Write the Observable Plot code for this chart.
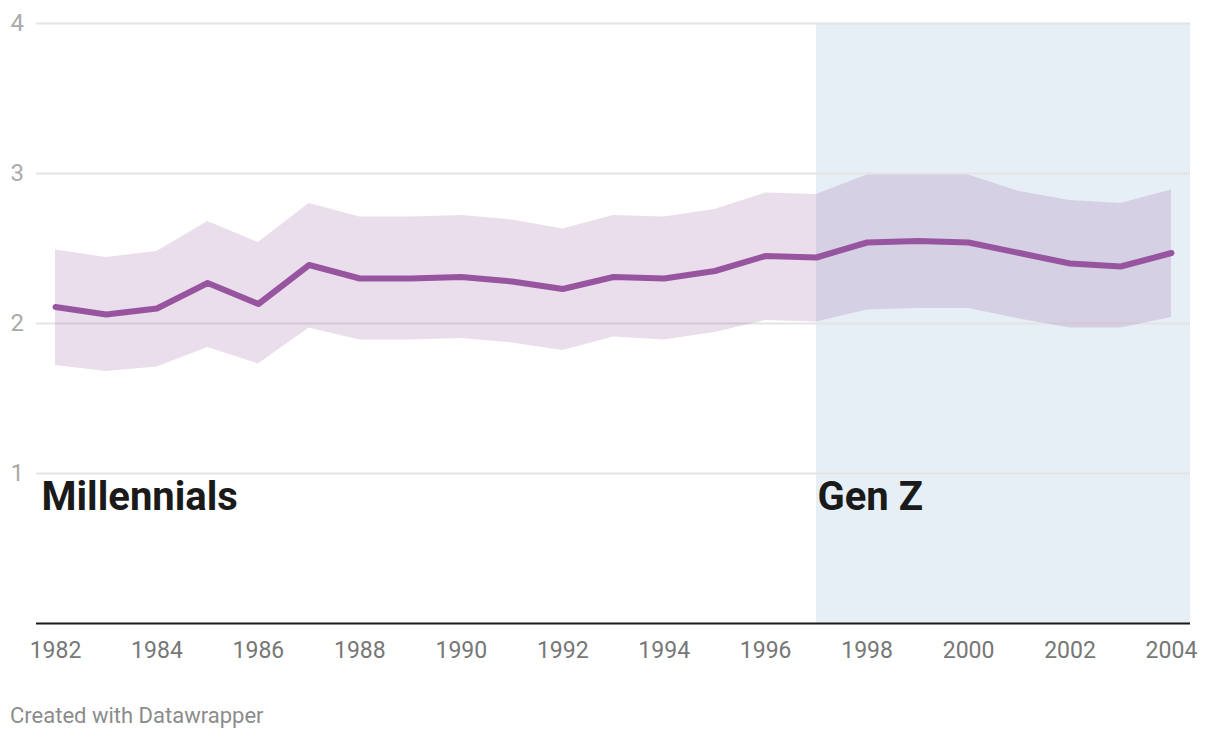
<!DOCTYPE html>
<html><head><meta charset="utf-8">
<script src="https://cdn.jsdelivr.net/npm/d3@7"></script>
<script src="https://cdn.jsdelivr.net/npm/@observablehq/plot@0.6"></script>
<style>
body{margin:0;background:#fff;font-family:Roboto,sans-serif;}
#chart{position:relative;width:1220px;height:740px;overflow:hidden;}
#chart svg{position:absolute;left:0;top:0;}
#caption{position:absolute;left:10px;top:703px;font-size:22px;color:#8c8c8c;font-family:Roboto,sans-serif;}
</style></head><body><div id="chart"><div id="caption">Created with Datawrapper</div></div><script>
const years = [1982,1983,1984,1985,1986,1987,1988,1989,1990,1991,1992,1993,1994,1995,1996,1997,1998,1999,2000,2001,2002,2003,2004];
const mean  = [2.11,2.06,2.10,2.27,2.13,2.39,2.30,2.30,2.31,2.28,2.23,2.31,2.30,2.35,2.45,2.44,2.54,2.55,2.54,2.47,2.40,2.38,2.47];
const upper = [2.49,2.44,2.48,2.68,2.54,2.80,2.71,2.71,2.72,2.69,2.63,2.72,2.71,2.76,2.87,2.86,2.99,2.99,2.99,2.88,2.82,2.80,2.89];
const lower = [1.72,1.68,1.71,1.84,1.73,1.97,1.89,1.89,1.90,1.87,1.82,1.91,1.89,1.94,2.02,2.01,2.09,2.10,2.10,2.03,1.97,1.97,2.04];
const xTicks = [1982,1984,1986,1988,1990,1992,1994,1996,1998,2000,2002,2004];
const yTicks = [1,2,3,4];
const generationNames = ["Millennials","Gen Z"];
const genZStart = 1997;

const xDomain = [1981.625, 2004.375];
const yDomain = [0, 4];
const rows = years.map((y,i)=>({year:y, mean:mean[i], upper:upper[i], lower:lower[i]}));
const purple = "#97559f";

const chart = Plot.plot({
  width: 1220, height: 680,
  marginLeft: 36, marginRight: 30, marginTop: 23, marginBottom: 57,
  style: {fontFamily: "Roboto, sans-serif", background: "transparent", overflow: "visible"},
  x: {domain: xDomain},
  y: {domain: yDomain},
  marks: [
    Plot.rect([{x1: genZStart, x2: xDomain[1]}], {x1: "x1", x2: "x2", y1: yDomain[0], y2: yDomain[1], fill: "#e6eff6"}),
    Plot.ruleY(yTicks, {stroke: "#e4e4e4", strokeWidth: 2}),
    Plot.areaY(rows, {x: "year", y1: "lower", y2: "upper", fill: purple, fillOpacity: 0.2}),
    Plot.lineY(rows, {x: "year", y: "mean", stroke: purple, strokeWidth: 6, strokeLinecap: "round", strokeLinejoin: "round"}),
    Plot.ruleY([0], {stroke: "#1a1a1a", strokeWidth: 2}),
    Plot.axisX(xTicks, {tickSize: 0, tickPadding: 18, tickFormat: d => String(d), fontSize: 23, fill: "#777", label: null}),
    Plot.axisY(yTicks, {tickSize: 0, tickPadding: 0, textAnchor: "start", dx: -26, tickFormat: d => String(d), fontSize: 24, fill: "#aaa", label: null}),
    Plot.text([generationNames[0]], {x: xDomain[0], y: 1, text: d => d, textAnchor: "start", lineAnchor: "top", dx: 5, dy: 8, fontSize: 40, fontWeight: "bold", fill: "#1a1a1a"}),
    Plot.text([generationNames[1]], {x: genZStart, y: 1, text: d => d, textAnchor: "start", lineAnchor: "top", dx: 1, dy: 8, fontSize: 40, fontWeight: "bold", fill: "#1a1a1a"})
  ]
});
document.getElementById("chart").prepend(chart);
</script></body></html>
